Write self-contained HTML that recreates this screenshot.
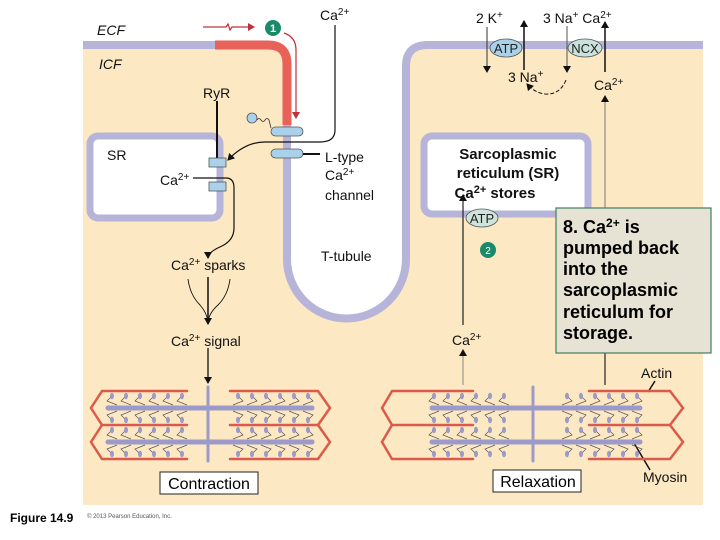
<!DOCTYPE html>
<html><head><meta charset="utf-8"><style>
body{margin:0;background:#fff;}
svg{display:block;font-family:"Liberation Sans",sans-serif;}
</style></head><body>
<svg id="s" width="720" height="540" viewBox="0 0 720 540" xmlns="http://www.w3.org/2000/svg">
<defs>
<marker id="a" markerWidth="8" markerHeight="8" refX="6" refY="4" orient="auto" markerUnits="userSpaceOnUse"><path d="M0,0 L7,4 L0,8 Z" fill="#111"/></marker>
<marker id="ar" markerWidth="8" markerHeight="8" refX="6" refY="4" orient="auto" markerUnits="userSpaceOnUse"><path d="M0,0 L7,4 L0,8 Z" fill="#c0303a"/></marker>
</defs>
<rect x="83" y="45" width="620" height="460" fill="#fce8c2"/>
<path d="M0,0 H720 V45 H428 Q406,45 406,66 V259 A59.5,59.5 0 0 1 287,259 V64 Q287,45 268,45 H0 Z" fill="#fff"/>
<path d="M83,45 H268 Q287,45 287,64 V259 A59.5,59.5 0 0 0 406,259 V66 Q406,45 428,45 H703" fill="none" stroke="#b6b4d8" stroke-width="8"/>
<path d="M215,45 H268 Q287,45 287,64 V125" fill="none" stroke="#e8625a" stroke-width="9"/>
<rect x="90" y="136" width="130" height="82" rx="8" fill="#fff" stroke="#b6b4d8" stroke-width="7"/>
<rect x="424" y="136" width="164" height="78" rx="8" fill="#fff" stroke="#b6b4d8" stroke-width="7"/>
<line x1="217" y1="101" x2="217" y2="163" stroke="#111" stroke-width="2"/>
<rect x="209" y="158" width="17" height="9" fill="#a9d2ea" stroke="#555" stroke-width="0.8"/>
<rect x="209" y="182" width="17" height="9" fill="#a9d2ea" stroke="#555" stroke-width="0.8"/>
<rect x="271" y="127" width="32" height="9" rx="4.5" fill="#a9d2ea" stroke="#555" stroke-width="0.8"/>
<rect x="271" y="149" width="32" height="9" rx="4.5" fill="#a9d2ea" stroke="#555" stroke-width="0.8"/>
<line x1="303" y1="154" x2="320" y2="154" stroke="#111" stroke-width="2"/>
<circle cx="252" cy="118" r="5" fill="#a9d2ea" stroke="#555" stroke-width="0.8"/>
<path d="M257,120 q2,-3 4,0 q2,3 4,0 q2,-3 4,0 l2,8" fill="none" stroke="#333" stroke-width="0.8"/>
<path d="M335,25 V130 Q335,142 320,142 H265 Q245,142 228,160" fill="none" stroke="#111" stroke-width="1.2" marker-end="url(#a)"/>
<path d="M193,178 H226 Q234,178 234,188 V228 Q234,240 222,246 Q208,252 208,258" fill="none" stroke="#111" stroke-width="1.2" marker-end="url(#a)"/>
<path d="M203,27 H226 L228,24 L230,30 L232,27 H254" fill="none" stroke="#c0303a" stroke-width="1.2" marker-end="url(#ar)"/>
<path d="M284,33 Q296,37 296,50 V118" fill="none" stroke="#c0303a" stroke-width="1.2" marker-end="url(#ar)"/>
<circle cx="273" cy="28" r="8" fill="#1a8a6a"/>
<text x="273" y="32" font-size="11" font-weight="bold" fill="#fff" text-anchor="middle">1</text>
<line x1="208" y1="277" x2="208" y2="324" stroke="#111" stroke-width="1.5" marker-end="url(#a)"/>
<path d="M188,279 Q190,295 200,305 Q207,313 208,322" fill="none" stroke="#111" stroke-width="0.9"/>
<path d="M230,279 Q228,295 218,305 Q209,313 208,322" fill="none" stroke="#111" stroke-width="0.9"/>
<line x1="208" y1="348" x2="208" y2="383" stroke="#111" stroke-width="1.3" marker-end="url(#a)"/>
<line x1="487" y1="27" x2="487" y2="72" stroke="#333" stroke-width="1" marker-end="url(#a)"/>
<line x1="524" y1="70" x2="524" y2="21" stroke="#111" stroke-width="1.5" marker-end="url(#a)"/>
<ellipse cx="506" cy="48" rx="16" ry="9" fill="#a9d2ea" stroke="#555" stroke-width="0.8"/>
<text x="506" y="53" font-size="13" text-anchor="middle" fill="#222">ATP</text>
<line x1="567" y1="26" x2="567" y2="72" stroke="#555" stroke-width="1" marker-end="url(#a)"/>
<path d="M566,80 Q560,95 545,94 Q535,93 527,84" fill="none" stroke="#111" stroke-width="1" stroke-dasharray="4,2" marker-end="url(#a)"/>
<ellipse cx="585" cy="48" rx="17" ry="9" fill="#c9e2dc" stroke="#555" stroke-width="0.8"/>
<text x="585" y="53" font-size="13" text-anchor="middle" fill="#222">NCX</text>
<line x1="605" y1="72" x2="605" y2="22" stroke="#111" stroke-width="1.5" marker-end="url(#a)"/>
<line x1="605" y1="215" x2="605" y2="96" stroke="#777" stroke-width="1" marker-end="url(#a)"/>
<line x1="605" y1="353" x2="605" y2="385" stroke="#333" stroke-width="1.3"/>
<line x1="463" y1="325" x2="463" y2="195" stroke="#222" stroke-width="1.2" marker-end="url(#a)"/>
<line x1="463" y1="385" x2="463" y2="350" stroke="#888" stroke-width="1" marker-end="url(#a)"/>
<ellipse cx="482" cy="218" rx="16" ry="9" fill="#cfe5dc" stroke="#555" stroke-width="0.8"/>
<text x="482" y="223" font-size="13" text-anchor="middle" fill="#222">ATP</text>
<circle cx="488" cy="250" r="8" fill="#1a8a6a"/>
<text x="488" y="254" font-size="10" fill="#fff" text-anchor="middle">2</text>
<g font-size="14" fill="#111">
<text x="97" y="35" font-style="italic">ECF</text>
<text x="99" y="69" font-style="italic">ICF</text>
<text x="320" y="20">Ca<tspan font-size="10" dy="-5">2+</tspan></text>
<text x="476" y="23">2 K<tspan font-size="10" dy="-5">+</tspan></text>
<text x="543" y="23">3 Na<tspan font-size="10" dy="-5">+</tspan><tspan dy="5"> Ca</tspan><tspan font-size="10" dy="-5">2+</tspan></text>
<text x="508" y="82">3 Na<tspan font-size="10" dy="-5">+</tspan></text>
<text x="594" y="90">Ca<tspan font-size="10" dy="-5">2+</tspan></text>
<text x="203" y="98">RyR</text>
<text x="107" y="160">SR</text>
<text x="160" y="185">Ca<tspan font-size="10" dy="-5">2+</tspan></text>
<text x="325" y="162">L-type</text>
<text x="325" y="180">Ca<tspan font-size="10" dy="-5">2+</tspan></text>
<text x="325" y="200">channel</text>
<text x="321" y="261">T-tubule</text>
<text x="171" y="270">Ca<tspan font-size="10" dy="-5">2+</tspan><tspan dy="5"> sparks</tspan></text>
<text x="171" y="346">Ca<tspan font-size="10" dy="-5">2+</tspan><tspan dy="5"> signal</tspan></text>
<text x="452" y="345">Ca<tspan font-size="10" dy="-5">2+</tspan></text>
<text x="641" y="378">Actin</text>
<text x="643" y="482">Myosin</text>
</g>
<g font-size="15" font-weight="bold" fill="#111" text-anchor="middle">
<text x="508" y="159">Sarcoplasmic</text>
<text x="508" y="178">reticulum (SR)</text>
<text x="495" y="198">Ca<tspan font-size="11" dy="-5">2+</tspan><tspan dy="5"> stores</tspan></text>
</g>
<rect x="556" y="208" width="155" height="145" fill="#e6e3d5" stroke="#3f7f5f" stroke-width="1.2"/>
<g font-size="18" font-weight="bold" fill="#000">
<text x="563" y="233">8. Ca<tspan font-size="12" dy="-6">2+</tspan><tspan dy="6"> is</tspan></text>
<text x="563" y="254">pumped back</text>
<text x="563" y="275">into the</text>
<text x="563" y="296">sarcoplasmic</text>
<text x="563" y="318">reticulum for</text>
<text x="563" y="339">storage.</text>
</g>
<line x1="655" y1="381" x2="648" y2="392" stroke="#111" stroke-width="1.5"/>
<line x1="634" y1="443" x2="650" y2="470" stroke="#111" stroke-width="1.5"/>
<g id="sarc"></g>
<rect x="160" y="472" width="98" height="22" fill="#fff" stroke="#222" stroke-width="1"/>
<text x="209" y="489" font-size="16" text-anchor="middle" fill="#000">Contraction</text>
<rect x="493" y="470" width="88" height="22" fill="#fff" stroke="#222" stroke-width="1"/>
<text x="538" y="487" font-size="16" text-anchor="middle" fill="#000">Relaxation</text>
<text x="10" y="522" font-size="12" font-weight="bold" fill="#000">Figure 14.9</text>
<text x="87" y="518" font-size="6" fill="#555">© 2013 Pearson Education, Inc.</text>
</svg>
<script>
var g=document.getElementById('sarc'),h='';
function L(x1,y1,x2,y2,c,w){h+='<line x1="'+x1+'" y1="'+y1+'" x2="'+x2+'" y2="'+y2+'" stroke="'+c+'" stroke-width="'+w+'" stroke-linecap="round"/>';}
function P(d,c,w,f){h+='<path d="'+d+'" stroke="'+c+'" stroke-width="'+w+'" fill="'+(f||'none')+'"/>';}
var R='#dc5a4a',V='#9c9ac8';
function sarc(tl,al1,al2,ar1,ar2,tr,z,t1,t2,hL,hR){
 var ys=[391,425,459];
 for(var i=0;i<3;i++){L(al1,ys[i],al2,ys[i],R,2.5);L(ar1,ys[i],ar2,ys[i],R,2.5);}
 for(var r=0;r<2;r++){var m=ys[r]+17;
  P('M'+al1+','+ys[r]+' L'+tl+','+m+' L'+al1+','+ys[r+1],R,2.5);
  P('M'+ar2+','+ys[r]+' L'+tr+','+m+' L'+ar2+','+ys[r+1],R,2.5);
  L(t1,m,t2,m,V,5);
  [hL,hR].forEach(function(arr,k){arr.forEach(function(x){
   [-1,1].forEach(function(s){var yh=m+s*12;var dx=k==0?-5:5;
    P('M'+(x-dx)+','+(m+s*3)+' L'+(x+dx)+','+(m+s*7)+' L'+x+','+yh,'#555',0.7);
    h+='<ellipse cx="'+x+'" cy="'+yh+'" rx="2" ry="3.2" fill="'+V+'"/>';});});});
 }
 L(z,387,z,461,V,3);
}
var a=[],b=[],c=[],d=[];
for(var i=0;i<6;i++){a.push(112+i*14);b.push(238+i*14);c.push(434+i*14);d.push(567+i*14);}
sarc(91,102,187,230,318,330,208,108,312,a,b);
sarc(382,392,473,589,670,683,533,432,640,c,d);
g.innerHTML=h;
</script>
</body></html>
